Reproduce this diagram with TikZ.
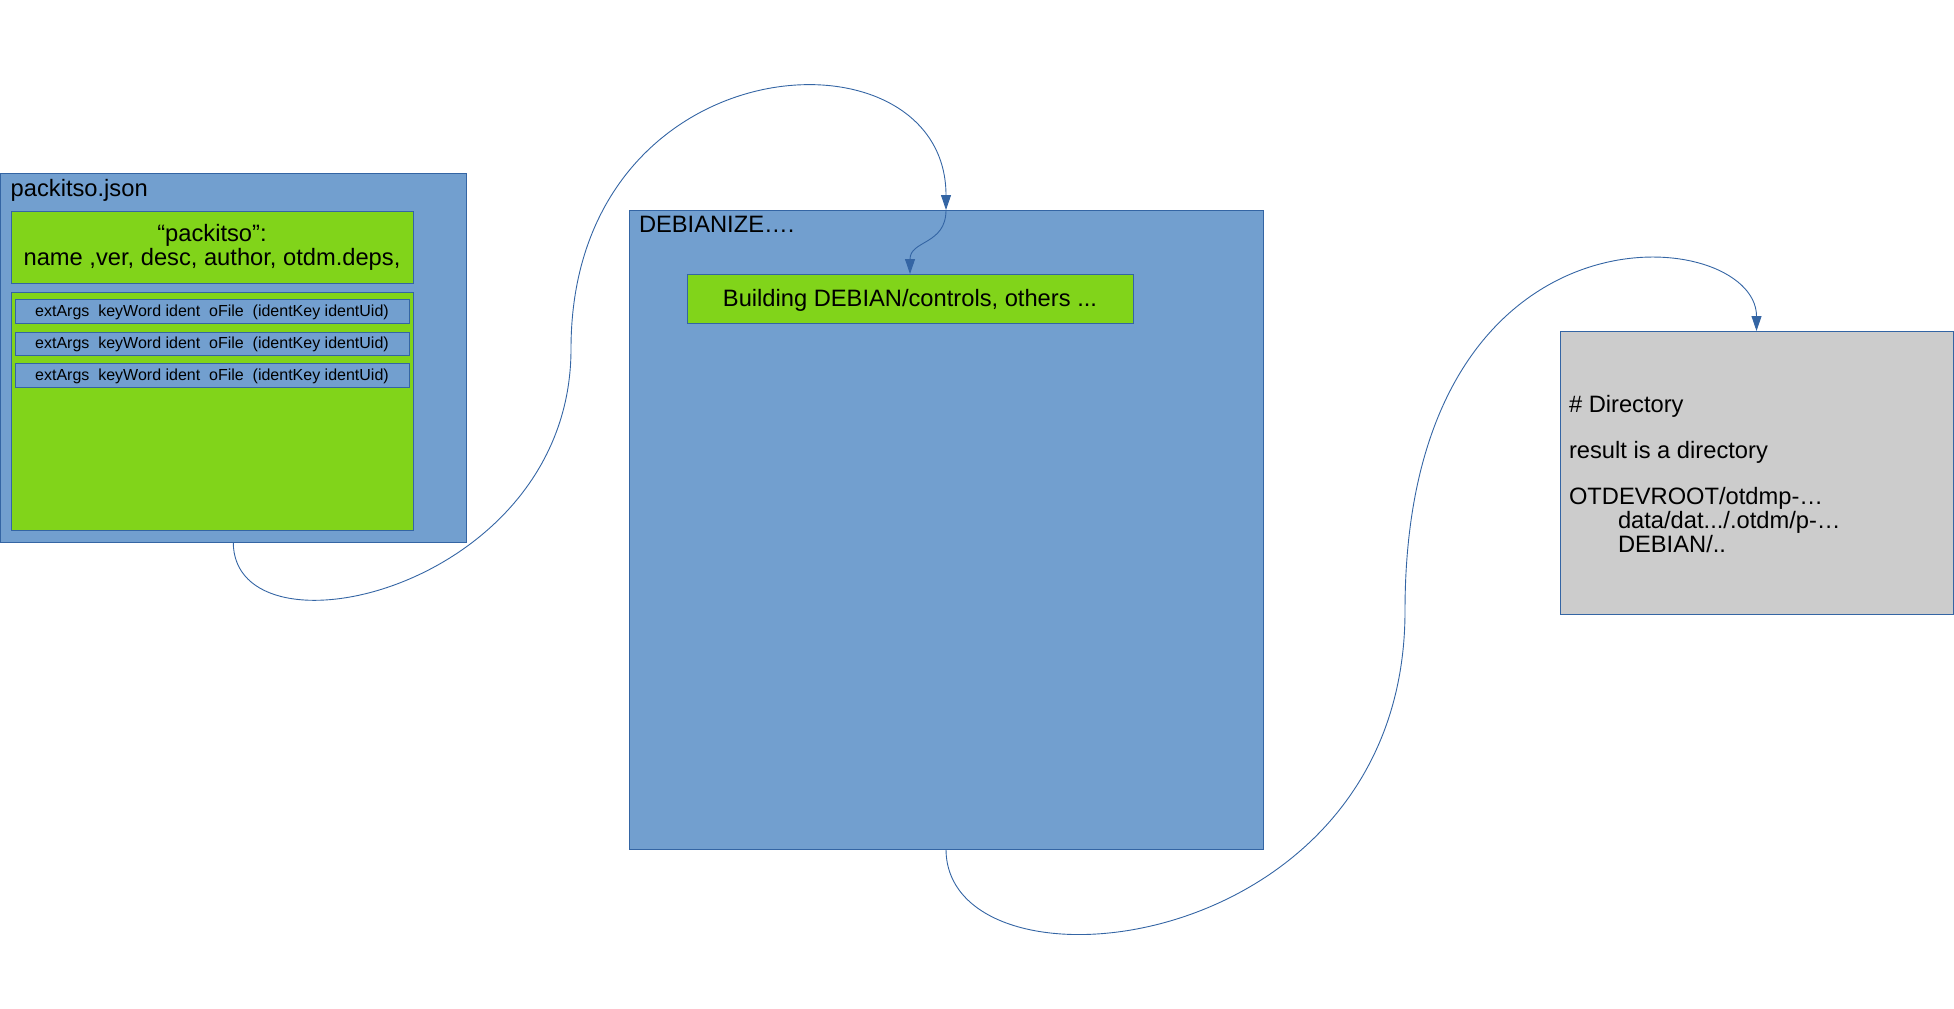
\documentclass[tikz,border=0pt]{standalone}
\usepackage{fontspec}
\setmainfont{Liberation Sans}
\usetikzlibrary{fit,arrows.meta}
\definecolor{boxblue}{HTML}{729FCF}
\definecolor{boxgreen}{HTML}{81D41A}
\definecolor{boxgray}{HTML}{CCCCCC}
\definecolor{edgeblue}{HTML}{3465A4}
\tikzset{
  panel/.style={draw=edgeblue, line width=0.5pt, inner sep=0pt, outer sep=0pt},
  bluepanel/.style={panel, fill=boxblue},
  greenpanel/.style={panel, fill=boxgreen},
  graypanel/.style={panel, fill=boxgray},
  bigtext/.style={font=\fontsize{11.85pt}{11.4pt}\selectfont, inner sep=0pt, outer sep=0pt},
  smalltext/.style={font=\fontsize{8pt}{9pt}\selectfont, inner sep=0pt, outer sep=0pt},
  conn/.style={draw=edgeblue, line width=0.45pt, -{Triangle[length=7.5pt,width=5pt]}},
}
\begin{document}
\begin{tikzpicture}[x=0.5pt,y=-0.5pt]
\useasboundingbox (0,0) rectangle (1954,1008);

% packitso.json panel
\node[bluepanel, fit={(0.5,173)(466,542)}] (pk) {};
\node[bigtext, anchor=base west] (pktitle) at (10.7,196.7) {packitso.json};
\node[greenpanel, fit={(11,211)(413,283)}] (g1) {};
\node[bigtext, anchor=base] (g1text) at (212,241.7)
  {\fontsize{11.85pt}{11.65pt}\selectfont\begin{tabular}[t]{@{}c@{}}“packitso”:\\name ,ver, desc, author, otdm.deps,\end{tabular}};
\node[greenpanel, fit={(11,292)(413,530)}] (g2) {};
\node[bluepanel, fit={(15,299)(409,323)}] (r1) {};
\node[bluepanel, fit={(15,332)(409,355)}] (r2) {};
\node[bluepanel, fit={(15,363)(409,387)}] (r3) {};
\node[smalltext, anchor=base] (r1text) at (212,316.5) {extArgs\ \ keyWord ident\ \ oFile\ \ (identKey identUid)};
\node[smalltext, anchor=base] (r2text) at (212,348.5) {extArgs\ \ keyWord ident\ \ oFile\ \ (identKey identUid)};
\node[smalltext, anchor=base] (r3text) at (212,380) {extArgs\ \ keyWord ident\ \ oFile\ \ (identKey identUid)};

% DEBIANIZE panel
\node[bluepanel, fit={(629,210)(1263,849)}] (deb) {};
\node[bigtext, anchor=base west] (debtitle) at (639,232.3) {DEBIANIZE….};
\node[greenpanel, fit={(687,274)(1133,323)}] (bld) {};
\node[bigtext, anchor=base] (bldtext) at (910,306) {Building DEBIAN/controls, others ...};

% result panel
\node[graypanel, fit={(1560,331)(1953,614)}] (gr) {};
\node[bigtext, anchor=base west] (grtext) at (1569,412)
  {\fontsize{11.85pt}{11.25pt}\selectfont\begin{tabular}[t]{@{}l@{}}\# Directory\\ \\ result is a directory\\ \\ OTDEVROOT/otdmp-…\\ \hspace{24.5pt}data/dat.../.otdm/p-…\\ \hspace{24.5pt}DEBIAN/..\end{tabular}};

% connectors
\coordinate (m1) at (571,349);
\coordinate (m2) at (1405,611);
\draw[conn] (pk.south) .. controls +(0,123) and +(0,241) .. (m1)
  .. controls +(0,-309) and +(0,-190) .. (deb.north);
\draw[conn] (deb.north) .. controls +(0,35) and +(0,-34) .. (bld.north);
\draw[conn] (deb.south) .. controls +(0,156) and +(0,349) .. (m2)
  .. controls +(0,-424) and +(0,-107) .. (gr.north);
\end{tikzpicture}
\end{document}
